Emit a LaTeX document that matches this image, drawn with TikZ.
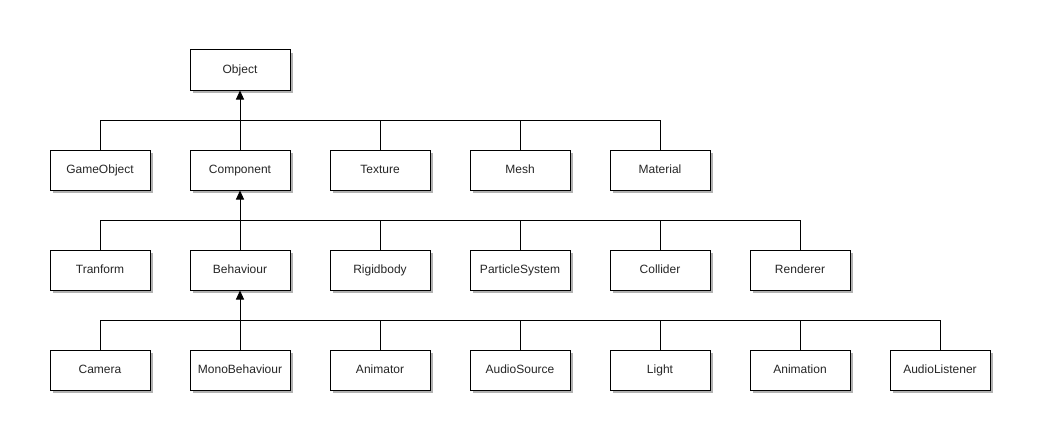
\documentclass[tikz,border=0pt]{standalone}
\usepackage{fontspec}
\setmainfont{Liberation Sans}
\usetikzlibrary{arrows.meta,calc,shadows}

\begin{document}
\begin{tikzpicture}[
  x=1pt,y=-1pt,
  cls/.style={draw,fill=white,line width=1pt,minimum width=100pt,minimum height=40pt,
              inner sep=0pt,text height=9pt,text depth=2.5pt,
              font=\fontsize{12}{14}\selectfont,text=black!85,
              drop shadow={shadow xshift=3pt,shadow yshift=-3pt,fill=black!30,opacity=1}},
  link/.style={line width=1pt},
  inh/.style={line width=1pt,-{Triangle[length=9pt,width=8pt]}}
]
\useasboundingbox (0,0) rectangle (1043,444);
% level 0
\node[cls] (obj) at (240,70) {Object};
% level 1
\node[cls] (gameobj) at (100,170) {GameObject};
\node[cls] (comp) at (240,170) {Component};
\node[cls] (texture) at (380,170) {Texture};
\node[cls] (mesh) at (520,170) {Mesh};
\node[cls] (material) at (660,170) {Material};
% level 2
\node[cls] (tranform) at (100,270) {Tranform};
\node[cls] (behav) at (240,270) {Behaviour};
\node[cls] (rigid) at (380,270) {Rigidbody};
\node[cls] (particle) at (520,270) {ParticleSystem};
\node[cls] (collider) at (660,270) {Collider};
\node[cls] (renderer) at (800,270) {Renderer};
% level 3
\node[cls] (camera) at (100,370) {Camera};
\node[cls] (mono) at (240,370) {MonoBehaviour};
\node[cls] (animator) at (380,370) {Animator};
\node[cls] (audiosrc) at (520,370) {AudioSource};
\node[cls] (light) at (660,370) {Light};
\node[cls] (animation) at (800,370) {Animation};
\node[cls] (audiolst) at (940,370) {AudioListener};
% junctions
\coordinate (jobj) at ($(obj.south)+(0,30)$);
\coordinate (jcomp) at ($(comp.south)+(0,30)$);
\coordinate (jbehav) at ($(behav.south)+(0,30)$);
% inheritance
\foreach \c in {gameobj,comp,texture,mesh,material}
  \draw[link] (\c.north) |- (jobj);
\foreach \c in {tranform,behav,rigid,particle,collider,renderer}
  \draw[link] (\c.north) |- (jcomp);
\foreach \c in {camera,mono,animator,audiosrc,light,animation,audiolst}
  \draw[link] (\c.north) |- (jbehav);
\draw[inh] (jobj) -- (obj.south);
\draw[inh] (jcomp) -- (comp.south);
\draw[inh] (jbehav) -- (behav.south);
\end{tikzpicture}
\end{document}
